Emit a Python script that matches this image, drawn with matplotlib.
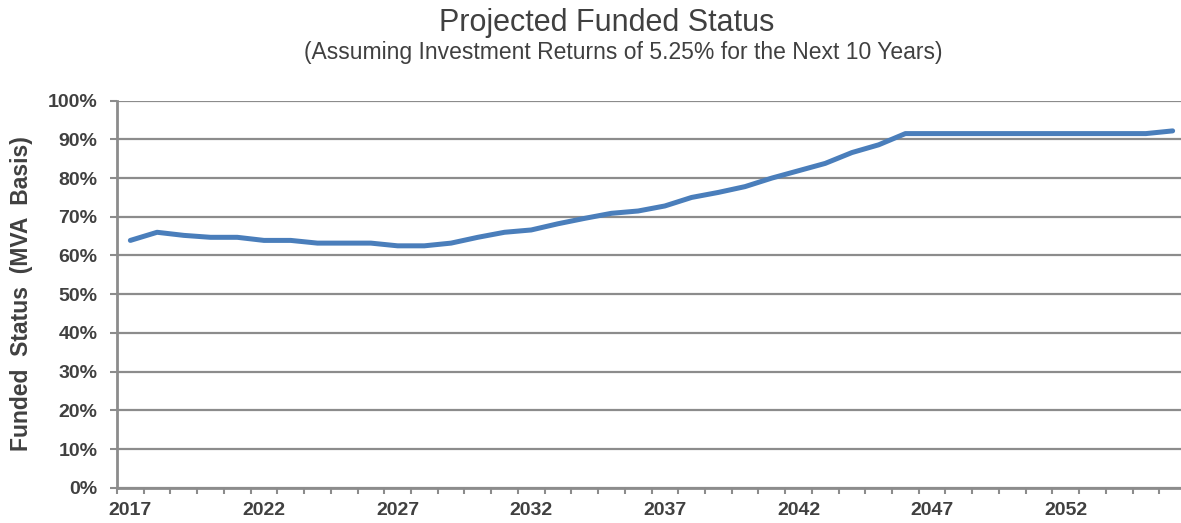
import numpy as np
import matplotlib.pyplot as plt
from matplotlib.ticker import FuncFormatter

# ------------------------------- data -------------------------------------- #

years = list(range(2017, 2057))
funded_pct = [63.9, 66.0, 65.2, 64.7, 64.7, 63.9, 63.9, 63.2, 63.2, 63.2,
              62.5, 62.5, 63.2, 64.7, 66.0, 66.6, 68.2, 69.6, 70.9, 71.5,
              72.8, 75.0, 76.3, 77.8, 80.0, 81.9, 83.8, 86.6, 88.6, 91.5,
              91.5, 91.5, 91.5, 91.5, 91.5, 91.5, 91.5, 91.5, 91.5, 92.2]
label_years = [2017, 2022, 2027, 2032, 2037, 2042, 2047, 2052]
y_ticks = list(range(0, 101, 10))

title = "Projected Funded Status"
subtitle = "(Assuming Investment Returns of 5.25% for the Next 10 Years)"
y_label = "Funded  Status  (MVA  Basis)"

# ------------------------------- style ------------------------------------- #

TEXT = "#404040"
GRID = "#8c8c8c"
LINE = "#4a7ebb"

plt.rcParams['font.family'] = ['Liberation Sans', 'DejaVu Sans']

fig = plt.figure(figsize=(11.81, 5.23), dpi=100)
ax = fig.add_axes([117 / 1181, 35.3 / 523, 1069 / 1181, 387 / 523])

ax.plot(years, funded_pct, color=LINE, lw=3.6, solid_capstyle='round',
        solid_joinstyle='round', zorder=3)

ax.set_xlim(years[0] - 0.5, years[-1] + 0.5)
ax.set_ylim(0, 100)

# category boundaries carry the tick marks, labels sit on category centres
ax.set_xticks(np.arange(years[0] - 0.5, years[-1] + 1.0, 1.0))
ax.set_xticklabels([])
ax.set_xticks(label_years, minor=True)
ax.set_xticklabels([str(y) for y in label_years], minor=True)
ax.tick_params(axis='x', which='major', length=4, width=1.5, color=GRID,
               direction='out')
ax.tick_params(axis='x', which='minor', length=0, pad=10, labelsize=14,
               labelcolor=TEXT)

ax.set_yticks(y_ticks)
ax.yaxis.set_major_formatter(FuncFormatter(lambda v, p: f"{v:.0f}%"))
ax.tick_params(axis='y', length=5, width=1.5, color=GRID, pad=9,
               labelsize=14, labelcolor=TEXT)
for lab in ax.get_xticklabels(minor=True) + ax.get_yticklabels():
    lab.set_fontweight('bold')

ax.grid(axis='y', color=GRID, lw=1.6, zorder=1)
ax.set_axisbelow(True)
for side in ('top', 'right'):
    ax.spines[side].set_visible(False)
for side in ('left', 'bottom'):
    ax.spines[side].set_color(GRID)
    ax.spines[side].set_linewidth(2.0)

fig.text(22 / 1181, 1 - 294 / 523, y_label, rotation=90, ha='center',
         va='center', fontsize=16.5, fontweight='bold', color=TEXT)
fig.text(607 / 1181, 1 - 31 / 523, title, ha='center', va='baseline',
         fontsize=22, color=TEXT)
fig.text(623 / 1181, 1 - 59 / 523, subtitle, ha='center', va='baseline',
         fontsize=16.5, color=TEXT)

fig.savefig("out.png", dpi=100)
